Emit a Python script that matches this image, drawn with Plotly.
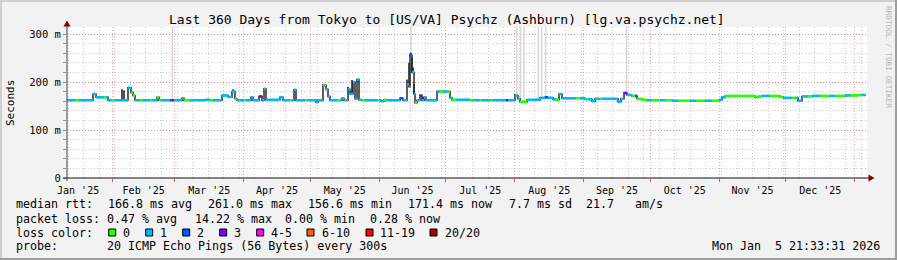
import pandas as pd
import plotly.graph_objects as go

# ---------------- data ----------------
# median RTT as a step series: change points (days since 2025-01-01), value (ms), loss class
med_day = [10.5, 14.1, 15.9, 22.2, 23.55, 27.15, 28.05, 28.95, 30.75, 31.65,
           35.25, 37.95, 39.3, 40.2, 41.1, 43.35, 44.7, 47.85, 48.75, 51.0,
           51.9, 52.8, 56.85, 57.75, 58.65, 62.25, 63.15, 65.85, 72.6, 74.85,
           76.2, 80.25, 82.95, 84.75, 86.1, 87.0, 90.15, 91.05, 93.3, 94.2,
           96.9, 98.25, 99.15, 100.05, 106.35, 107.7, 110.85, 111.75, 112.65, 113.55,
           117.6, 118.95, 122.55, 123.45, 125.7, 127.05, 127.95, 128.85, 132.0, 133.35,
           134.25, 135.15, 136.95, 137.85, 139.2, 140.1, 141.0, 141.9, 143.25, 144.6,
           150.0, 150.9, 151.8, 153.15, 154.05, 160.35, 161.7, 163.5, 164.4, 164.85,
           165.75, 166.65, 167.1, 168.0, 169.35, 170.25, 171.15, 172.05, 177.0, 178.35,
           179.7, 181.5, 182.85, 183.75, 185.55, 191.85, 193.2, 196.35, 197.25, 200.85,
           201.75, 208.05, 208.95, 212.1, 213.45, 214.35, 217.5, 223.35, 225.6, 226.95,
           229.2, 230.55, 231.9, 233.25, 239.55, 241.35, 243.6, 244.95, 246.75, 248.1,
           250.35, 251.25, 258.45, 259.8, 261.15, 262.5, 264.75, 266.1, 267.0, 269.25,
           271.5, 273.75, 277.35, 279.6, 282.75, 285.45, 290.85, 293.55, 297.6, 300.75,
           303.9, 305.25, 306.6, 320.1, 321.45, 323.25, 326.85, 331.35, 332.7, 336.75,
           338.1, 339.45, 341.25, 343.95, 345.75, 349.35, 353.85, 356.1, 360.6, 362.85,
           366.45, 368.25]
med_ms = [162, 162, 162, 175, 168, 168, 168, 162, 162, 162,
          162, 188, 178, 172, 162, 162, 162, 162, 162, 168,
          162, 162, 162, 162, 162, 166, 162, 162, 163, 162,
          162, 172, 169, 180, 165, 162, 162, 162, 168, 162,
          170, 162, 186, 163, 168, 162, 162, 162, 184, 162,
          162, 162, 158, 162, 194, 185, 170, 162, 162, 162,
          166, 162, 185, 175, 200, 165, 205, 163, 162, 162,
          162, 162, 160, 163, 162, 166, 162, 195, 190, 255,
          220, 175, 157, 162, 172, 162, 168, 162, 180, 180,
          180, 180, 167, 163, 163, 162, 162, 162, 162, 162,
          162, 162, 162, 172, 165, 159, 163, 167, 168, 167,
          164, 163, 175, 166, 166, 166, 164, 164, 160, 165,
          165, 165, 159, 165, 177, 173, 171, 171, 165, 163,
          162, 162, 162, 162, 161, 161, 161, 161, 161, 161,
          163, 168, 171, 168, 170, 171, 171, 169, 167, 167,
          167, 161, 170, 170, 171, 171, 171, 171, 172, 172,
          173, 173]
med_loss = [1, 0, 1, 1, 1, 0, 1, 1, 0, 1,
            1, 1, 0, 0, 1, 0, 1, 0, 1, 0,
            0, 1, 2, 3, 1, 1, 0, 1, 1, 0,
            1, 1, 1, 1, 0, 1, 0, 1, 1, 1,
            3, 1, 1, 1, 1, 1, 0, 1, 1, 1,
            0, 1, 1, 1, 0, 1, 1, 1, 0, 1,
            1, 1, 1, 1, 1, 1, 1, 1, 0, 1,
            0, 1, 1, 0, 1, 2, 1, 1, 1, 2,
            1, 1, 0, 1, 3, 1, 1, 1, 1, 0,
            1, 0, 1, 0, 1, 0, 1, 0, 1, 0,
            1, 3, 1, 1, 1, 0, 1, 1, 2, 1,
            1, 0, 1, 1, 0, 1, 0, 1, 1, 1,
            0, 1, 1, 1, 3, 1, 0, 2, 0, 0,
            1, 0, 1, 0, 1, 0, 1, 0, 1, 0,
            1, 1, 0, 0, 0, 1, 0, 0, 1, 0,
            1, 1, 1, 0, 1, 0, 1, 0, 1, 0,
            0, 1]
data_end_day = 369.9

# dark smoke spikes: day, top of smoke (ms)
spike_day = [22.65, 35.25, 36.15, 37.95, 38.4, 85.2, 85.65, 93.75, 99.15, 112.65,
             125.7, 126.6, 136.95, 137.4, 138.3, 138.75, 139.2, 141.0, 141.45, 161.25,
             163.5, 163.95, 164.4, 164.85, 165.3, 165.75, 166.2, 166.65, 169.35, 170.7,
             212.1, 232.35, 261.15]
spike_top = [175, 185, 183, 189, 189, 185, 180, 170, 187, 185,
             195, 190, 190, 187, 180, 204, 200, 206, 200, 168,
             205, 200, 240, 259, 261, 250, 230, 195, 174, 169,
             175, 176, 178]

# light smoke reaching above the chart top: day, top (ms)
smoke_day = [57.9, 165.3, 212.9, 214.6, 216.15, 222.6, 224.1, 225.9, 262.3]
smoke_top = [400, 400, 400, 400, 400, 400, 400, 400, 400]

loss_labels = ["0", "1", "2", "3", "4-5", "6-10", "11-19", "20/20"]
loss_colors = ["#26ff00", "#00b8ff", "#0059ff", "#7e00ff", "#ff00ff", "#ff5e00", "#ff0000", "#a10000"]

title_text = "Last 360 Days from Tokyo to [US/VA] Psychz (Ashburn) [lg.va.psychz.net]"
rtt_items = ["median rtt:", "166.8 ms avg", "261.0 ms max", "156.6 ms min", "171.4 ms now",
             "7.7 ms sd", "21.7", "am/s"]
loss_items = ["packet loss:", "0.47 % avg", "14.22 % max", "0.00 % min", "0.28 % now"]
probe_items = ["probe:", "20 ICMP Echo Pings (56 Bytes) every 300s"]
stamp_text = "Mon Jan  5 21:33:31 2026"

# ---------------- layout helpers ----------------
W, H = 897, 260
L, R, T, B = 67, 30, 27, 82
PW, PH = W - L - R, H - T - B
MONO = "DejaVu Sans Mono"
BASE = pd.Timestamp("2025-01-01")


def iso(d):
    if d is None:
        return None
    return (BASE + pd.to_timedelta(d, unit="D")).strftime("%Y-%m-%d %H:%M:%S")


def PX(x):
    return (x - L) / PW


def PY(y):
    return (T + PH - y) / PH


def med_at(d):
    idx = 0
    for i, md in enumerate(med_day):
        if md <= d:
            idx = i
    return med_ms[idx]


fig = go.Figure()

# light smoke
sx, sy = [], []
for d, top in zip(smoke_day, smoke_top):
    sx += [iso(d), iso(d), None]
    sy += [med_at(d), top, None]
fig.add_trace(go.Scatter(x=sx, y=sy, mode="lines", line=dict(color="#d6d6d6", width=1.5),
                         hoverinfo="skip", cliponaxis=True))

# median step line drawn dark (connectors)
ends = med_day[1:] + [data_end_day]
fig.add_trace(go.Scatter(x=[iso(d) for d in med_day + [data_end_day]], y=med_ms + [med_ms[-1]],
                         mode="lines", line=dict(color="#2a2a2a", width=1.5, shape="hv"),
                         hoverinfo="skip"))

# dark smoke spikes
kx, ky = [], []
for d, top in zip(spike_day, spike_top):
    kx += [iso(d), iso(d), None]
    ky += [med_at(d), top, None]
fig.add_trace(go.Scatter(x=kx, y=ky, mode="lines", line=dict(color="#262626", width=1.6),
                         hoverinfo="skip"))

# coloured median segments by loss class
for c in range(len(loss_colors)):
    xs, ys = [], []
    for d0, d1, v, l in zip(med_day, ends, med_ms, med_loss):
        if l == c:
            xs += [iso(d0), iso(d1), None]
            ys += [v, v, None]
    if xs:
        fig.add_trace(go.Scatter(x=xs, y=ys, mode="lines",
                                 line=dict(color=loss_colors[c], width=2.6),
                                 hoverinfo="skip"))

grid_minor = "rgba(143,143,143,0.45)"
grid_major = "rgba(226,90,90,0.55)"

fig.update_xaxes(
    type="date", range=[iso(10.5), iso(370.5)],
    dtick="M1", tick0="2025-01-01", ticklabelmode="period", tickformat="%b '%y",
    showgrid=True, gridcolor=grid_major, griddash="1px,2px", gridwidth=1,
    ticks="outside", ticklen=3, tickcolor="#e05050", tickwidth=1,
    showline=False, zeroline=False,
    tickfont=dict(family=MONO, size=10, color="#000"),
    minor=dict(dtick=7 * 86400000, tick0="2025-01-05", showgrid=True,
               gridcolor=grid_minor, griddash="1px,2px", gridwidth=1),
)
fig.update_yaxes(
    range=[0, PH / 0.48], tickvals=[0, 100, 200, 300], ticktext=["0", "100 m", "200 m", "300 m"],
    showgrid=True, gridcolor=grid_major, griddash="1px,2px", gridwidth=1,
    ticks="outside", ticklen=3, tickcolor="#909090", zeroline=False, showline=False,
    tickfont=dict(family=MONO, size=10.5, color="#000"),
    minor=dict(dtick=20, showgrid=True, gridcolor=grid_minor, griddash="1px,2px",
               ticks="outside", ticklen=3, tickcolor="#909090"),
)

shapes = []
# frame shading
shapes.append(dict(type="rect", xref="paper", yref="paper", x0=PX(0), x1=PX(W), y0=PY(2), y1=PY(0),
                   fillcolor="#cfcfcf", line_width=0))
shapes.append(dict(type="rect", xref="paper", yref="paper", x0=PX(0), x1=PX(2), y0=PY(H), y1=PY(0),
                   fillcolor="#cfcfcf", line_width=0))
shapes.append(dict(type="rect", xref="paper", yref="paper", x0=PX(W - 2), x1=PX(W), y0=PY(H), y1=PY(0),
                   fillcolor="#9e9e9e", line_width=0))
shapes.append(dict(type="rect", xref="paper", yref="paper", x0=PX(0), x1=PX(W), y0=PY(H), y1=PY(H - 2),
                   fillcolor="#9e9e9e", line_width=0))
# axes with arrows
shapes.append(dict(type="line", xref="paper", yref="paper", x0=PX(63), x1=PX(870), y0=0, y1=0,
                   line=dict(color="#101010", width=1)))
shapes.append(dict(type="line", xref="paper", yref="paper", x0=0, x1=0, y0=PY(181), y1=PY(24),
                   line=dict(color="#404040", width=1)))
shapes.append(dict(type="path", xref="paper", yref="paper",
                   path=f"M {PX(67)} {PY(20.5)} L {PX(63.5)} {PY(26.5)} L {PX(70.5)} {PY(26.5)} Z",
                   fillcolor="#7f0000", line_width=0))
shapes.append(dict(type="path", xref="paper", yref="paper",
                   path=f"M {PX(874.5)} {PY(178)} L {PX(868.5)} {PY(174.5)} L {PX(868.5)} {PY(181.5)} Z",
                   fillcolor="#7f0000", line_width=0))

annotations = []


def text_at(txt, x, y, size=11.65, anchor="left", color="#000", angle=0):
    annotations.append(dict(text=txt.replace(" ", "\u00a0"), x=PX(x), y=PY(y), xref="paper", yref="paper",
                            xanchor=anchor, yanchor="middle", showarrow=False, textangle=angle,
                            font=dict(family=MONO, size=size, color=color)))


text_at(title_text, 446.7, 19.5, size=13, anchor="center")
text_at("Seconds", 10, 103, size=11, anchor="center", angle=-90)
text_at("RRDTOOL / TOBI OETIKER", 889, 57, size=7.7, anchor="center", color="#b4b4b4", angle=90)

rtt_x = [16, 107.3, 207.3, 307.3, 407.3, 508.3, 586, 635]
for t, x in zip(rtt_items, rtt_x):
    text_at(t, x - 1.6, 204.5)
loss_x = [16, 107, 194.5, 285, 370]
for t, x in zip(loss_items, loss_x):
    text_at(t, x - 1.6, 218.5)
text_at("loss color:", 16 - 1.6, 232.5)
box_x = [108.7, 145.7, 182.7, 219.7, 256.7, 307, 366, 430]
lab_x = [123, 160, 197, 234, 271, 322, 380, 444.5]
for lab, col, bx, lx in zip(loss_labels, loss_colors, box_x, lab_x):
    shapes.append(dict(type="rect", xref="paper", yref="paper", x0=PX(bx), x1=PX(bx + 7),
                       y0=PY(236), y1=PY(229), fillcolor=col, line=dict(color="#000", width=1)))
    text_at(lab, lx - 1.6, 232.5)
probe_x = [16, 107]
for t, x in zip(probe_items, probe_x):
    text_at(t, x - 1.6, 246.3)
text_at(stamp_text, 882.3, 246.3, anchor="right")

fig.update_layout(
    width=W, height=H, margin=dict(l=L, r=R, t=T, b=B, pad=0),
    paper_bgcolor="#f2f2f2", plot_bgcolor="#ffffff", showlegend=False,
    shapes=shapes, annotations=annotations,
)

fig.write_html("out.html")
